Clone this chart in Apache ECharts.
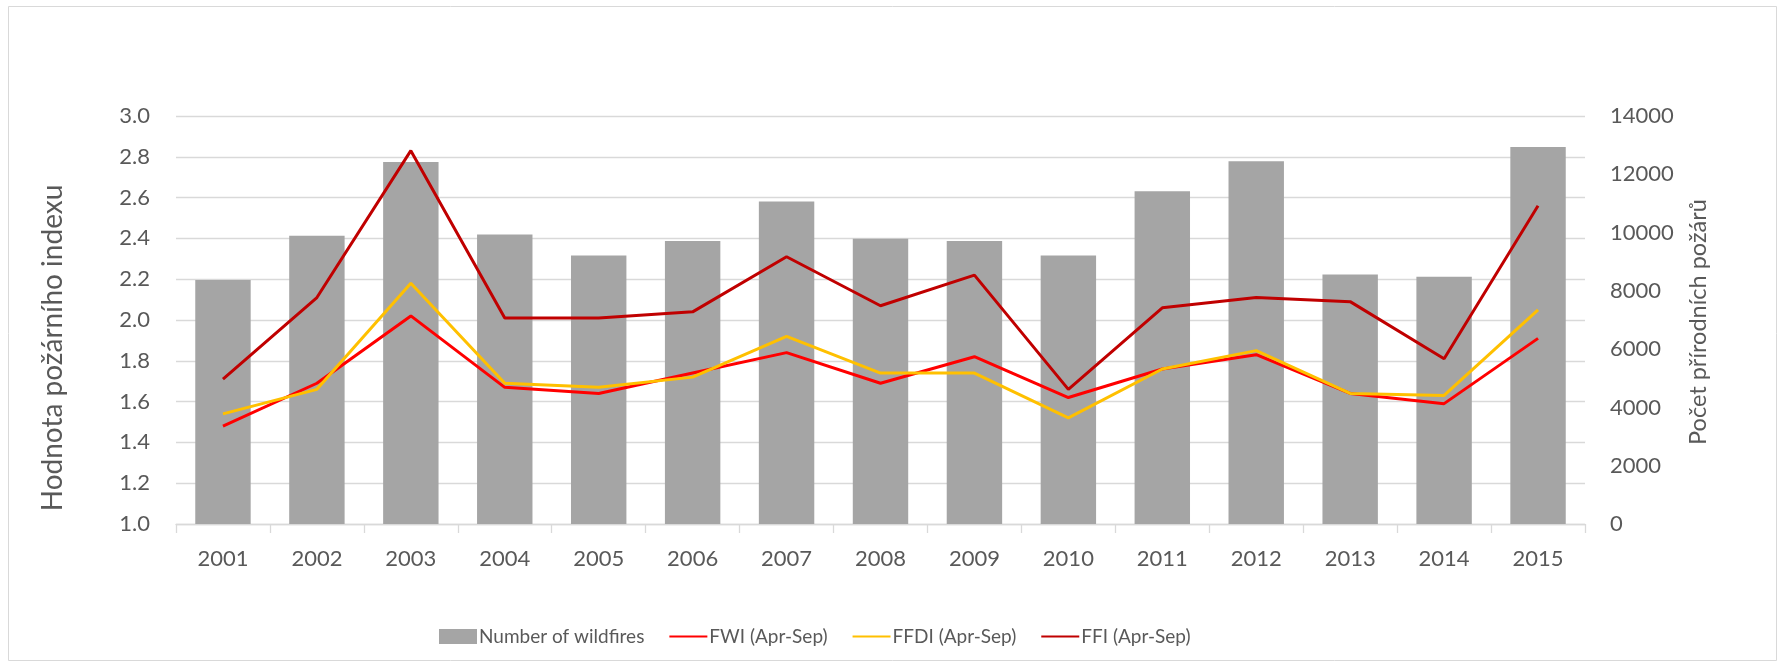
<!DOCTYPE html>
<html>
<head>
<meta charset="utf-8">
<script src="https://cdn.jsdelivr.net/npm/echarts@6/dist/echarts.min.js"></script>
<style>
  html, body { margin: 0; padding: 0; background: #ffffff; }
  #chart { width: 1779px; height: 663px; }
</style>
</head>
<body>
<div id="chart"></div>
<script>
// Years on the category axis
const years = ['2001', '2002', '2003', '2004', '2005', '2006', '2007', '2008',
               '2009', '2010', '2011', '2012', '2013', '2014', '2015'];

// Number of wildfires per year (right axis)
const wildfires = [8370, 9890, 12420, 9930, 9210, 9710, 11070, 9790,
                   9710, 9210, 11420, 12450, 8560, 8480, 12940];

// Mean fire danger index values, April–September (left axis)
const fwi  = [1.48, 1.69, 2.02, 1.67, 1.64, 1.74, 1.84, 1.69, 1.82, 1.62, 1.76, 1.83, 1.64, 1.59, 1.91];
const ffdi = [1.54, 1.66, 2.18, 1.69, 1.67, 1.72, 1.92, 1.74, 1.74, 1.52, 1.76, 1.85, 1.64, 1.63, 2.05];
const ffi  = [1.71, 2.11, 2.83, 2.01, 2.01, 2.04, 2.31, 2.07, 2.22, 1.66, 2.06, 2.11, 2.09, 1.81, 2.56];

// Axis ranges
const leftAxis  = { min: 1.0, max: 3.0, interval: 0.2 };
const rightAxis = { min: 0, max: 14000, interval: 2000 };

const seriesNames = ['Number of wildfires', 'FWI (Apr-Sep)', 'FFDI (Apr-Sep)', 'FFI (Apr-Sep)'];

const FONT = 'Lato, "Open Sans", sans-serif';
const LABEL = '#595959';
const GRID = '#D9D9D9';

const chart = echarts.init(document.getElementById('chart'), null, { renderer: 'canvas' });

chart.setOption({
  animation: false,
  backgroundColor: '#ffffff',
  textStyle: { fontFamily: FONT },
  grid: { left: 176, right: 194, top: 116, bottom: 139 },
  graphic: [
    {
      type: 'rect',
      shape: { x: 8.5, y: 6.5, width: 1768, height: 654 },
      style: { fill: 'none', stroke: GRID, lineWidth: 1 },
      silent: true
    },
    {
      type: 'text',
      x: 53, y: 348,
      rotation: Math.PI / 2,
      style: {
        text: 'Hodnota požárního indexu',
        fontFamily: FONT, fontSize: 28, fill: LABEL,
        align: 'center', verticalAlign: 'middle'
      }
    },
    {
      type: 'text',
      x: 1698, y: 322,
      rotation: Math.PI / 2,
      style: {
        text: 'Počet přírodních požárů',
        fontFamily: FONT, fontSize: 23.5, fill: LABEL,
        align: 'center', verticalAlign: 'middle'
      }
    }
  ],
  legend: {
    left: 434,
    top: 622,
    itemWidth: 38,
    itemHeight: 15,
    itemGap: 24,
    textStyle: { fontFamily: FONT, fontSize: 19, color: LABEL, padding: [0, 0, 0, -3] },
    data: [
      { name: seriesNames[0], icon: 'rect' },
      { name: seriesNames[1], itemStyle: { color: 'transparent', borderWidth: 0 } },
      { name: seriesNames[2], itemStyle: { color: 'transparent', borderWidth: 0 } },
      { name: seriesNames[3], itemStyle: { color: 'transparent', borderWidth: 0 } }
    ]
  },
  xAxis: {
    type: 'category',
    data: years,
    boundaryGap: true,
    axisLine: { show: true, lineStyle: { color: GRID, width: 1.3 } },
    axisTick: { show: true, length: 9, interval: 0, lineStyle: { color: GRID, width: 1.3 } },
    axisLabel: { color: LABEL, fontSize: 22, margin: 24, fontFamily: FONT }
  },
  yAxis: [
    {
      type: 'value',
      min: leftAxis.min, max: leftAxis.max, interval: leftAxis.interval,
      axisLine: { show: false },
      axisTick: { show: false },
      splitLine: { show: true, lineStyle: { color: GRID, width: 1.3 } },
      axisLabel: {
        color: LABEL, fontSize: 22, margin: 26, fontFamily: FONT,
        formatter: v => v.toFixed(1)
      }
    },
    {
      type: 'value',
      min: rightAxis.min, max: rightAxis.max, interval: rightAxis.interval,
      axisLine: { show: false },
      axisTick: { show: false },
      splitLine: { show: false },
      axisLabel: {
        color: LABEL, fontSize: 22, margin: 25, fontFamily: FONT,
        formatter: v => String(v)
      }
    }
  ],
  series: [
    {
      name: seriesNames[0],
      type: 'bar',
      yAxisIndex: 1,
      data: wildfires,
      barWidth: '59%',
      itemStyle: { color: '#A5A5A5' }
    },
    {
      name: seriesNames[1],
      type: 'line',
      yAxisIndex: 0,
      data: fwi,
      symbol: 'none',
      lineStyle: { color: '#FF0000', width: 3 },
      itemStyle: { color: '#FF0000' }
    },
    {
      name: seriesNames[2],
      type: 'line',
      yAxisIndex: 0,
      data: ffdi,
      symbol: 'none',
      lineStyle: { color: '#FFC000', width: 3 },
      itemStyle: { color: '#FFC000' }
    },
    {
      name: seriesNames[3],
      type: 'line',
      yAxisIndex: 0,
      data: ffi,
      symbol: 'none',
      lineStyle: { color: '#C00000', width: 3 },
      itemStyle: { color: '#C00000' }
    }
  ]
});
</script>
</body>
</html>
